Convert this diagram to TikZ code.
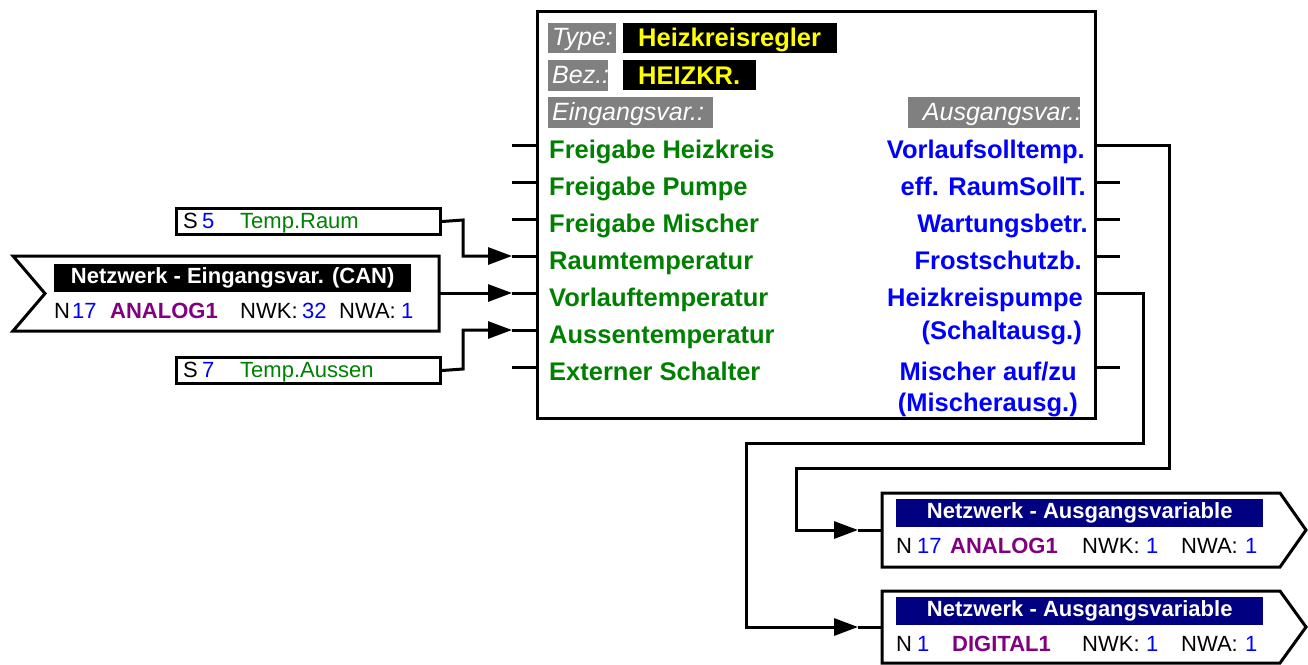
\documentclass[tikz,border=0pt]{standalone}
\usepackage{fontspec}
\setmainfont{Liberation Sans}
\usetikzlibrary{arrows.meta}
\definecolor{dgreen}{RGB}{0,128,0}
\definecolor{vblue}{RGB}{0,0,255}
\definecolor{vpurple}{RGB}{128,0,128}
\definecolor{vnavy}{RGB}{0,0,128}
\definecolor{vgray}{RGB}{128,128,128}
\definecolor{vyellow}{RGB}{255,255,0}
\newcommand\fsLab{\fontsize{25.5}{30}\selectfont\bfseries}
\newcommand\fsHdr{\fontsize{25}{30}\selectfont\itshape}
\newcommand\fsSm{\fontsize{22}{26}\selectfont}
\begin{document}
\begin{tikzpicture}[x=1pt,y=-1pt,
  lw/.style={line width=3pt},
  conn/.style={line width=3pt, line join=miter},
  arr/.style={conn, -{Triangle[length=24pt,width=17pt]}},
  frame/.style={draw, line width=3pt, fill=white, anchor=north west, inner sep=0pt},
  gbox/.style={fill=vgray, anchor=north west, inner sep=0pt},
  kbox/.style={fill=black, anchor=north west, inner sep=0pt},
  bbar/.style={fill=black, anchor=north west, inner sep=0pt, text=white, font=\fsSm\bfseries},
  nbar/.style={fill=vnavy, anchor=north west, inner sep=0pt, text=white, font=\fsSm\bfseries},
  hdr/.style={anchor=base west, inner sep=0pt, text=white, font=\fsHdr},
  val/.style={anchor=base west, inner sep=0pt, text=vyellow, font=\fsLab},
  inl/.style={anchor=base west, inner sep=0pt, text=dgreen, font=\fsLab},
  outl/.style={anchor=base east, inner sep=0pt, text=vblue, font=\fsLab},
  sm/.style={anchor=base west, inner sep=0pt, font=\fsSm},
]
\useasboundingbox (0,0) rectangle (1308,664);

% main function block
\node[frame, minimum width=558pt, minimum height=407pt] (fb) at (536,10) {};

% header
\node[gbox, minimum width=68pt, minimum height=30pt] (g1) at (548,23) {};
\node[hdr] (g1t) at (552,45) {Type:};
\node[gbox, minimum width=60pt, minimum height=31pt] (g2) at (548,60) {};
\node[hdr] (g2t) at (552,83) {Bez.:};
\node[gbox, minimum width=165pt, minimum height=31pt] (g3) at (548,97) {};
\node[hdr] (g3t) at (552,120) {Eingangsvar.:};
\node[gbox, minimum width=172pt, minimum height=31pt] (g4) at (908,97) {};
\node[hdr, anchor=base east] (g4t) at (1082,120) {Ausgangsvar.:};
\node[kbox, minimum width=214pt, minimum height=30pt] (k1) at (623,23) {};
\node[val] (k1t) at (638,46) {Heizkreisregler};
\node[kbox, minimum width=133pt, minimum height=30pt] (k2) at (623,60) {};
\node[val] (k2t) at (638,84) {HEIZKR.};

% input labels
\node[inl] (in1t) at (549,158) {Freigabe Heizkreis};
\node[inl] (in2t) at (549,195) {Freigabe Pumpe};
\node[inl] (in3t) at (549,232) {Freigabe Mischer};
\node[inl] (in4t) at (549,269) {Raumtemperatur};
\node[inl] (in5t) at (549,306) {Vorlauftemperatur};
\node[inl] (in6t) at (549,343) {Aussentemperatur};
\node[inl] (in7t) at (549,380) {Externer Schalter};

% output labels
\node[outl] (o1t) at (1085,158) {Vorlaufsolltemp.};
\node[outl] (o2t) at (1086,195) {eff. RaumSollT.};
\node[outl] (o3t) at (1088,232) {Wartungsbetr.};
\node[outl] (o4t) at (1082,269) {Frostschutzb.};
\node[outl] (o5t) at (1083,306) {Heizkreispumpe};
\node[outl] (o5u) at (1082,339) {(Schaltausg.)};
\node[outl] (o6t) at (1077,380) {Mischer auf/zu};
\node[outl] (o6u) at (1078,411) {(Mischerausg.)};

% input stub ends
\foreach \i/\yy in {1/145,2/182,3/219,4/256,5/293,6/330,7/367}{
  \coordinate (in\i) at (512,\yy);
  \draw[conn] (in\i) -- (in\i -| fb.west);
}
% output stub ends
\foreach \i/\yy in {2/182,3/219,4/256,6/367}{
  \coordinate (out\i) at (1120,\yy);
  \draw[conn] (out\i -| fb.east) -- (out\i);
}

% S5 sensor box
\node[frame, minimum width=264pt, minimum height=26pt] (s5) at (175,207) {};
\node[sm] (s5a) at (183,228) {S};
\node[sm, text=vblue] (s5b) at (202,228) {5};
\node[sm, text=dgreen] (s5c) at (240,228) {Temp.Raum};
% S7 sensor box
\node[frame, minimum width=264pt, minimum height=26pt] (s7) at (175,356) {};
\node[sm] (s7a) at (183,377) {S};
\node[sm, text=vblue] (s7b) at (202,377) {7};
\node[sm, text=dgreen] (s7c) at (240,377) {Temp.Aussen};

% CAN input
\draw[lw, line join=miter, fill=white] (13,256) -- (439,256) -- (439,331) -- (13,331) -- (45,293.5) -- cycle;
\coordinate (can) at (439,293);
\node[bbar, minimum width=357pt, minimum height=28pt] (canbar) at (54,264) {Netzwerk - Eingangsvar. (CAN)};
\node[sm] (cn1) at (54,318) {N};
\node[sm, text=vblue] (cn2) at (72,318) {17};
\node[sm, text=vpurple, font=\fsSm\bfseries] (cn3) at (110,318) {ANALOG1};
\node[sm] (cn4) at (240,318) {NWK:};
\node[sm, text=vblue] (cn5) at (302,318) {32};
\node[sm] (cn6) at (339,318) {NWA:};
\node[sm, text=vblue] (cn7) at (401,318) {1};

% input connectors
\draw[arr] (s5.east) -- (463,220) |- (in4);
\draw[arr] (can) -- (in5);
\draw[arr] (s7.east) -- (463,369) |- (in6);

% output boxes
\draw[lw, line join=miter, fill=white] (882,493) -- (1280,493) -- (1306,530) -- (1280,567) -- (882,567) -- cycle;
\coordinate (nb1) at (882,530);
\node[nbar, minimum width=367pt, minimum height=28pt] (nb1bar) at (896,499) {Netzwerk - Ausgangsvariable};
\node[sm] (a1) at (896,553) {N};
\node[sm, text=vblue] (a2) at (917,553) {17};
\node[sm, text=vpurple, font=\fsSm\bfseries] (a3) at (950,553) {ANALOG1};
\node[sm] (a4) at (1082,553) {NWK:};
\node[sm, text=vblue] (a5) at (1146,553) {1};
\node[sm] (a6) at (1181,553) {NWA:};
\node[sm, text=vblue] (a7) at (1245,553) {1};

\draw[lw, line join=miter, fill=white] (882,591) -- (1280,591) -- (1306,627) -- (1280,663) -- (882,663) -- cycle;
\coordinate (nb2) at (882,627);
\node[nbar, minimum width=367pt, minimum height=28pt] (nb2bar) at (896,597) {Netzwerk - Ausgangsvariable};
\node[sm] (b1) at (896,651) {N};
\node[sm, text=vblue] (b2) at (917,651) {1};
\node[sm, text=vpurple, font=\fsSm\bfseries] (b3) at (952,651) {DIGITAL1};
\node[sm] (b4) at (1082,651) {NWK:};
\node[sm, text=vblue] (b5) at (1146,651) {1};
\node[sm] (b6) at (1181,651) {NWA:};
\node[sm, text=vblue] (b7) at (1245,651) {1};

% output connectors
\coordinate (t1) at (858,530);
\coordinate (t2) at (858,627);
\draw[arr] (fb.east |- 0,145) -- (1169,145) -- (1169,468) -- (796,468) |- (t1);
\draw[conn] (t1) -- (nb1);
\draw[arr] (fb.east |- 0,293) -- (1143,293) -- (1143,443) -- (746,443) |- (t2);
\draw[conn] (t2) -- (nb2);
\end{tikzpicture}
\end{document}
